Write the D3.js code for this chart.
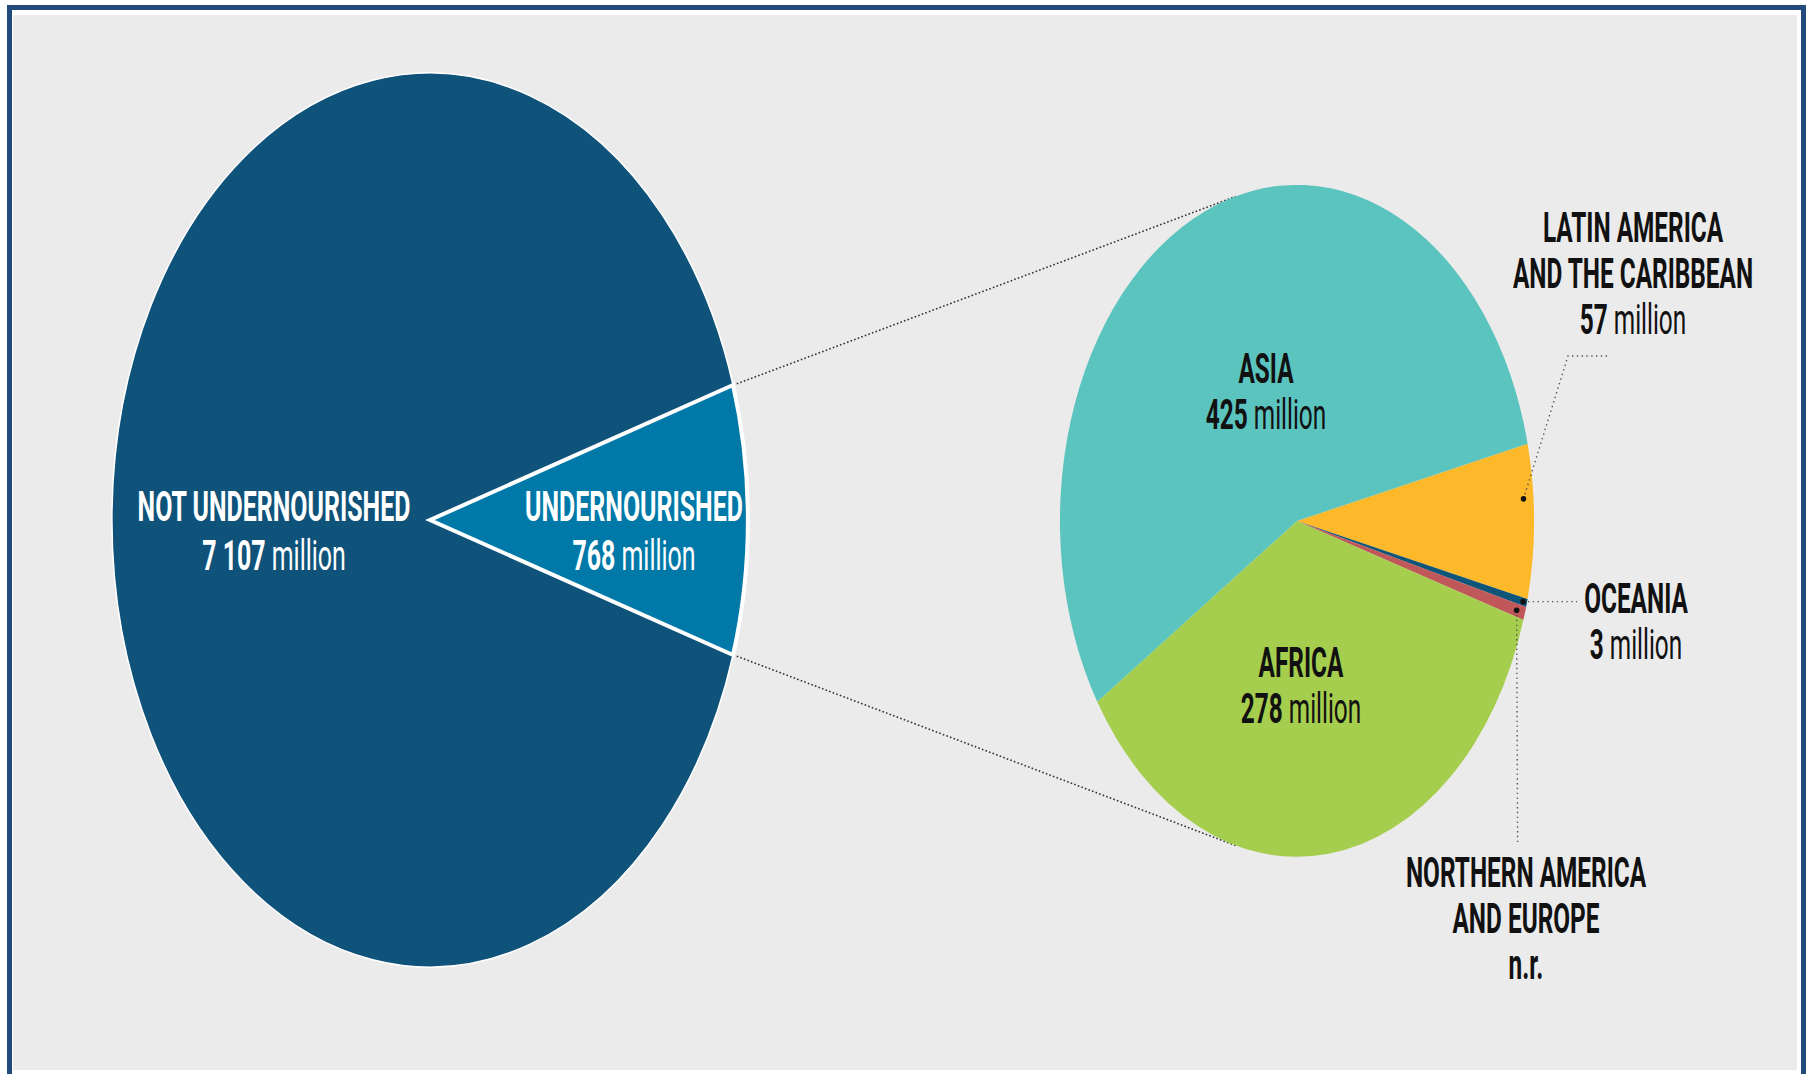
<!DOCTYPE html>
<html><head><meta charset="utf-8">
<script src="https://cdn.jsdelivr.net/npm/d3@7"></script>
<style>body{margin:0;background:#fff}svg{display:block}</style>
</head><body>
<svg id="c" width="1808" height="1074"></svg>
<script>
// ---- data ----
const overallCategories = ["NOT UNDERNOURISHED", "UNDERNOURISHED"];
const overallValues = [7107, 768];
const overallValueLabels = ["7 107", "768"];

const regionCategories = ["LATIN AMERICA|AND THE CARIBBEAN", "OCEANIA", "NORTHERN AMERICA|AND EUROPE", "AFRICA", "ASIA"];
const regionValues = [57, 3, 5, 278, 425];
const regionValueLabels = ["57", "3", "n.r.", "278", "425"];
const unitLabel = "million";

// ---- layout / style ----
const W = 1808, H = 1074;
const svg = d3.select("#c");
const condense = 0.58;

svg.append("rect").attr("x", 9.5).attr("y", 7.5).attr("width", 1794).attr("height", 1080)
  .attr("fill", "#fff").attr("stroke", "#234a7d").attr("stroke-width", 5);
svg.append("rect").attr("x", 13).attr("y", 15).attr("width", 1784).attr("height", 1055).attr("fill", "#ebebeb");

// left pie
const L = {cx: 430, cy: 520, rx: 318, ry: 447};
const leftColors = ["#10537a", "#0079a8"];
const leftStroke = [1.5, 4];
const underIdx = 1;
const halfWedge = overallValues[underIdx] / d3.sum(overallValues) * Math.PI;
const leftPie = d3.pie().sort(null).value(d => d)
  .startAngle(Math.PI / 2 + halfWedge).endAngle(Math.PI / 2 + halfWedge + 2 * Math.PI);
const leftArcs = leftPie(overallValues);
const unitArc = d3.arc().innerRadius(0).outerRadius(1);

// right pie
const R = {cx: 1297, cy: 521, rx: 237, ry: 336};
const rightColors = ["#fdb92a", "#0f5578", "#c0585a", "#a6ce4e", "#5bc4bf"];
const rStart = 76.7 * Math.PI / 180;
const rightPie = d3.pie().sort(null).value(d => d).startAngle(rStart).endAngle(rStart + 2 * Math.PI);
const rightArcs = rightPie(regionValues);

function pt(E, a, r = 1) { return [E.cx + E.rx * r * Math.sin(a), E.cy - E.ry * r * Math.cos(a)]; }

// connectors between pies
const ua = leftArcs[underIdx];
const connectorEnds = [-15 * Math.PI / 180, 195 * Math.PI / 180];
[ua.startAngle, ua.endAngle].forEach((a, i) => {
  const p0 = pt(L, a), p1 = pt(R, connectorEnds[i]);
  svg.append("line").attr("x1", p0[0]).attr("y1", p0[1]).attr("x2", p1[0]).attr("y2", p1[1])
    .attr("stroke", "#333").attr("stroke-width", 1.6).attr("stroke-dasharray", "1.6,2.2");
});

const gL = svg.append("g").attr("transform", `translate(${L.cx},${L.cy}) scale(${L.rx},${L.ry})`);
gL.selectAll("path").data(leftArcs).join("path")
  .attr("d", unitArc).attr("fill", (d, i) => leftColors[i])
  .attr("stroke", "#fff").attr("stroke-width", (d, i) => leftStroke[i]).attr("stroke-linejoin", "miter")
  .attr("vector-effect", "non-scaling-stroke");

const gR = svg.append("g").attr("transform", `translate(${R.cx},${R.cy}) scale(${R.rx},${R.ry})`);
gR.selectAll("path").data(rightArcs).join("path")
  .attr("d", unitArc).attr("fill", (d, i) => rightColors[i]);

// leader lines for small slices
const leaders = [
  {i: 0, frac: 0.35, r: 0.958, path: p => [p, [1568, 356], [1607, 356]]},
  {i: 1, frac: 0.5, r: 0.984, path: p => [p, [1577, p[1]]]},
  {i: 2, frac: 0.5, r: 0.964, path: p => [p, [p[0] + 1, 842]]}
];
leaders.forEach(l => {
  const a = rightArcs[l.i];
  const p = pt(R, a.startAngle + l.frac * (a.endAngle - a.startAngle), l.r);
  svg.append("path").attr("d", d3.line()(l.path(p))).attr("fill", "none")
    .attr("stroke", "#555").attr("stroke-width", 1.4).attr("stroke-dasharray", "1.4,3.4");
  svg.append("circle").attr("cx", p[0]).attr("cy", p[1]).attr("r", 2.8).attr("fill", "#111");
});

// labels
function label(x, y0, lines, value, color, size, gap) {
  const g = svg.append("g").attr("transform", `translate(${x},0) scale(${condense},1)`);
  const t = g.append("text").attr("text-anchor", "middle").attr("fill", color)
    .attr("font-family", "Roboto, 'Noto Sans', sans-serif").attr("font-size", size);
  lines.forEach((ln, k) => {
    t.append("tspan").attr("x", 0).attr("y", y0 + k * gap).attr("font-weight", 700).text(ln);
  });
  const vt = t.append("tspan").attr("x", 0).attr("y", y0 + lines.length * gap);
  vt.append("tspan").attr("font-weight", 700).text(value);
  if (value !== "n.r.") vt.append("tspan").attr("font-weight", 400).text(" " + unitLabel);
}
const leftLabelPos = [[274, 521], [634, 521]];
overallCategories.forEach((c, i) => label(leftLabelPos[i][0], leftLabelPos[i][1], [c], overallValueLabels[i], "#fff", 43, 49));

const rightLabelPos = [[1633, 242], [1636, 613], [1526, 887], [1301, 677], [1266, 383]];
regionCategories.forEach((c, i) => label(rightLabelPos[i][0], rightLabelPos[i][1], c.split("|"), regionValueLabels[i], "#111", 42, 46));
</script>
</body></html>
